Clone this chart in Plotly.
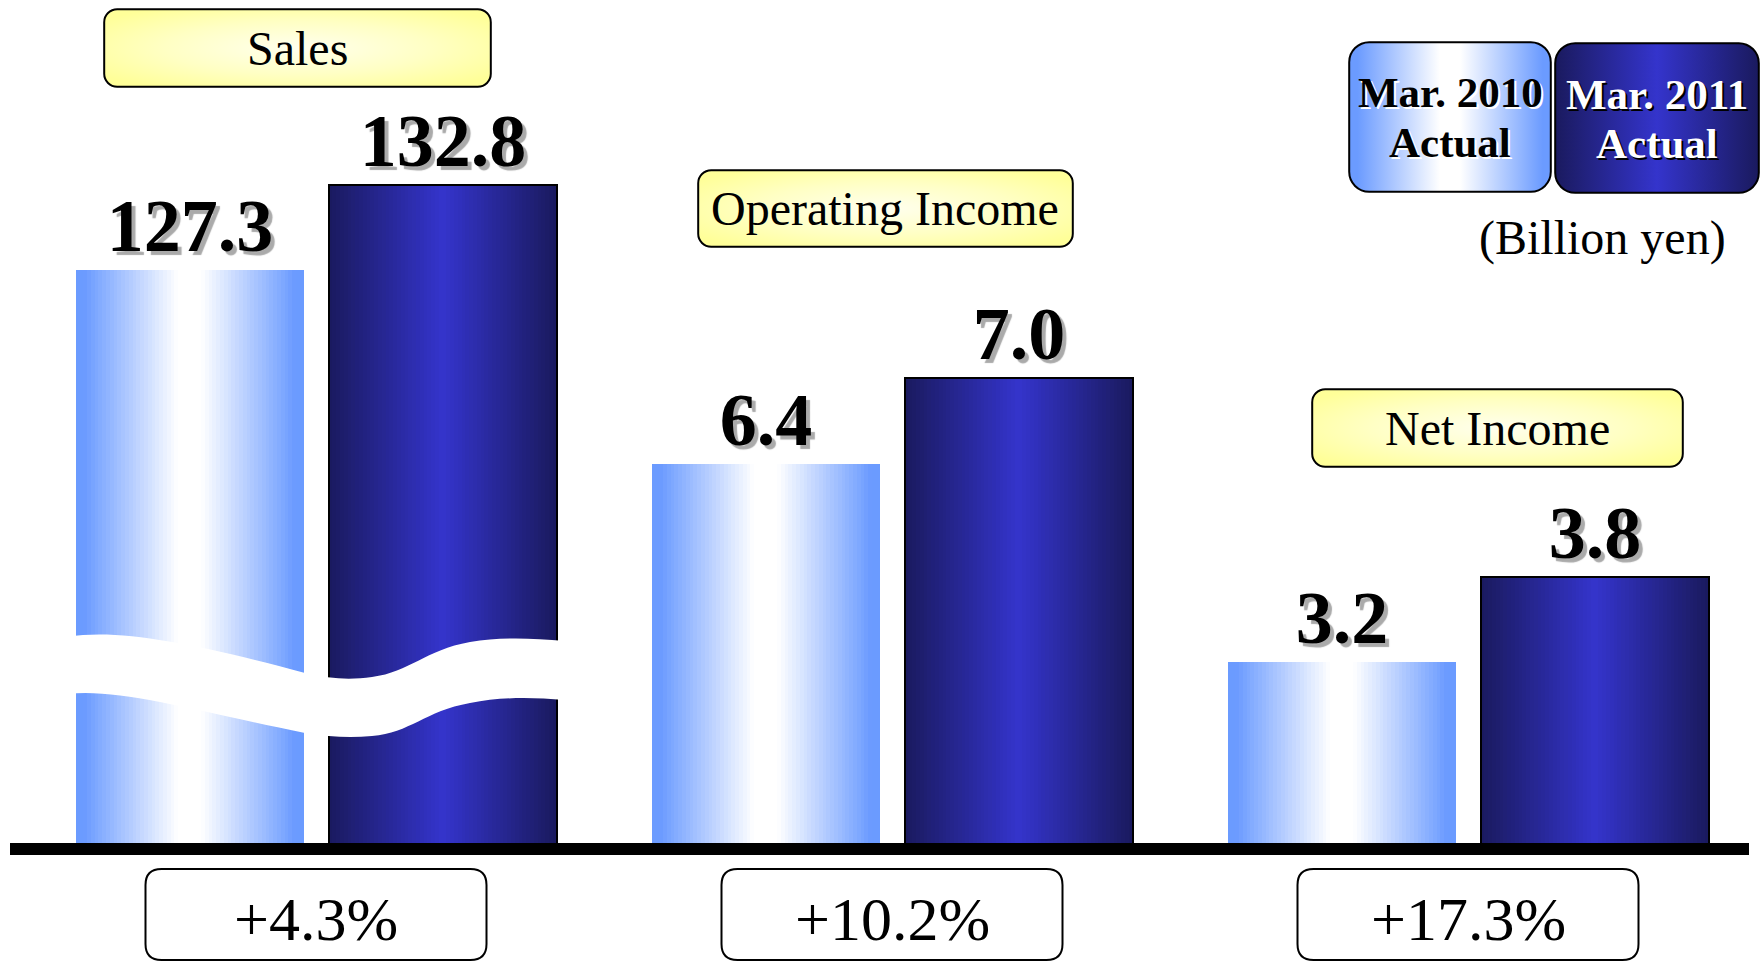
import base64
import plotly.graph_objects as go

W, H = 1763, 962

# ---------------- data ----------------
categories = ["Sales", "Operating Income", "Net Income"]
series_names = ["Mar. 2010 Actual", "Mar. 2011 Actual"]
values_2010 = [127.3, 6.4, 3.2]
values_2011 = [132.8, 7.0, 3.8]
change_labels = ["+4.3%", "+10.2%", "+17.3%"]
unit_label = "(Billion yen)"

# ---------------- layout constants ----------------
axis_base = [90.0, 3.77, 1.92]          # value sitting on the baseline for each group's axis
px_per_unit = [15.365, 144.0, 141.5]    # vertical scale of each group's axis
BASE_PX = 843                           # baseline (pixel row)
GROUP_PX = 576.0                        # pixels per group step
FIRST_CENTER_PX = 316.0
X_LEFT = -FIRST_CENTER_PX / GROUP_PX
X_RIGHT = (W - FIRST_CENTER_PX) / GROUP_PX
BAR_W = 228 / GROUP_PX
GAP = 25 / GROUP_PX
NSLICE = 60
SERIF = "Liberation Serif"

grad_2010 = [(0, "#6b9bff"), (0.04, "#6b9bff"), (0.45, "#ffffff"), (0.55, "#ffffff"),
             (0.96, "#6b9bff"), (1, "#6b9bff")]
grad_2011 = [(0, "#1a1a5e"), (0.5, "#3434cc"), (1, "#1a1a5e")]


def hex2rgb(h):
    h = h.lstrip("#")
    return tuple(int(h[i:i + 2], 16) for i in (0, 2, 4))


def color_at(stops, t):
    for (t0, c0), (t1, c1) in zip(stops[:-1], stops[1:]):
        if t0 <= t <= t1:
            f = 0 if t1 == t0 else (t - t0) / (t1 - t0)
            a, b = hex2rgb(c0), hex2rgb(c1)
            return "rgb(%d,%d,%d)" % tuple(round(a[k] + (b[k] - a[k]) * f) for k in range(3))
    return stops[-1][1]


def X(px):
    return px / W


def Y(py):
    return 1 - py / H


def xdata_to_px(xd):
    return (xd - X_LEFT) / (X_RIGHT - X_LEFT) * W


def rrect_path(x0, y0, x1, y1, r):
    ry = r
    return (f"M {X(x0 + r)},{Y(y0)} L {X(x1 - r)},{Y(y0)} Q {X(x1)},{Y(y0)} {X(x1)},{Y(y0 + ry)} "
            f"L {X(x1)},{Y(y1 - ry)} Q {X(x1)},{Y(y1)} {X(x1 - r)},{Y(y1)} "
            f"L {X(x0 + r)},{Y(y1)} Q {X(x0)},{Y(y1)} {X(x0)},{Y(y1 - ry)} "
            f"L {X(x0)},{Y(y0 + ry)} Q {X(x0)},{Y(y0)} {X(x0 + r)},{Y(y0)} Z")


def svg_uri(w, h, grad, r, radial=False):
    stops = "".join(f"<stop offset='{t}' stop-color='{c}'/>" for t, c in grad)
    if radial:
        gdef = f"<radialGradient id='g' cx='0.5' cy='0.5' r='0.62'>{stops}</radialGradient>"
    else:
        gdef = f"<linearGradient id='g' x1='0' y1='0' x2='1' y2='0'>{stops}</linearGradient>"
    svg = (f"<svg xmlns='http://www.w3.org/2000/svg' width='{w}' height='{h}' viewBox='0 0 {w} {h}'>"
           f"<defs>{gdef}</defs>"
           f"<rect x='1.2' y='1.2' width='{w - 2.4}' height='{h - 2.4}' rx='{r}' ry='{r}' "
           f"fill='url(#g)' stroke='#000' stroke-width='2'/></svg>")
    return "data:image/svg+xml;base64," + base64.b64encode(svg.encode()).decode()


fig = go.Figure()

value_font = dict(family=SERIF, size=74, color="black", weight="bold",
                  shadow="4px 4px 1px #aaaaaa")

series = [
    (values_2010, grad_2010, -GAP / 2 - BAR_W, 0, series_names[0]),
    (values_2011, grad_2011, GAP / 2, 2, series_names[1]),
]

for g in range(len(categories)):
    yref = "y" if g == 0 else f"y{g + 1}"
    for vals, stops, off0, lw, name in series:
        dw = BAR_W / NSLICE
        offs = [off0 + i * dw for i in range(NSLICE)]
        widths = [dw * 1.8 if i < NSLICE - 1 else dw for i in range(NSLICE)]
        cols = [color_at(stops, (i + 0.5) / NSLICE) for i in range(NSLICE)]
        fig.add_trace(go.Bar(
            x=[g] * NSLICE, y=[vals[g]] * NSLICE, offset=offs, width=widths,
            marker=dict(color=cols, line=dict(width=0)),
            xaxis="x", yaxis=yref, showlegend=False, hoverinfo="skip"))
        fig.add_trace(go.Bar(
            x=[g], y=[vals[g]], offset=off0, width=BAR_W, name=name,
            marker=dict(color="rgba(0,0,0,0)", line=dict(color="#000000", width=lw)),
            text=[f"{vals[g]:.1f}"], textposition="outside", cliponaxis=False,
            constraintext="none", textfont=value_font,
            xaxis="x", yaxis=yref, showlegend=False,
            hovertemplate=categories[g] + "<br>" + name + ": %{y}<extra></extra>"))

dom = [1 - BASE_PX / H, 1]
layout_axes = {}
for g in range(len(categories)):
    key = "yaxis" if g == 0 else f"yaxis{g + 1}"
    rng = [axis_base[g], axis_base[g] + BASE_PX / px_per_unit[g]]
    ax = dict(domain=dom, range=rng, visible=False, fixedrange=True, anchor="x")
    if g > 0:
        ax["overlaying"] = "y"
    layout_axes[key] = ax

shapes = []
# axis break wave across the Sales bars
wave = [(68, 637), (120, 628), (200, 645), (305, 673), (330, 679), (350, 680), (372, 677),
        (410, 672), (425, 650), (470, 642), (500, 637), (530, 638), (565, 641)]
wave_low = [(565, 700), (530, 697), (500, 697), (470, 703), (425, 711), (410, 733), (372, 736),
            (350, 738), (330, 737), (305, 733), (200, 712), (120, 688), (68, 694)]


def bez(pts, start_cmd):
    s = f"{start_cmd} {X(pts[0][0])},{Y(pts[0][1])} "
    for i in range(1, len(pts), 3):
        a, b, c = pts[i], pts[i + 1], pts[i + 2]
        s += f"C {X(a[0])},{Y(a[1])} {X(b[0])},{Y(b[1])} {X(c[0])},{Y(c[1])} "
    return s


wave_path = bez(wave, "M") + bez(wave_low, "L") + "Z"
shapes.append(dict(type="path", path=wave_path, xref="paper", yref="paper",
                   fillcolor="white", line=dict(width=0), layer="above"))

# baseline
shapes.append(dict(type="rect", xref="paper", yref="paper", x0=X(10), x1=X(1749),
                   y0=Y(855), y1=Y(843), fillcolor="black", line=dict(width=0), layer="above"))

annotations = []
# change boxes
for g, lab in enumerate(change_labels):
    cx = xdata_to_px(g)
    shapes.append(dict(type="path", path=rrect_path(cx - 170.5, 869, cx + 170.5, 960, 16),
                       xref="paper", yref="paper", fillcolor="white",
                       line=dict(color="black", width=2), layer="above"))
    annotations.append(dict(x=X(cx), y=Y(919), xref="paper", yref="paper", text=lab,
                            showarrow=False, xanchor="center", yanchor="middle",
                            font=dict(family=SERIF, size=62, color="black")))

# category title boxes
yellow = [(0, "#ffffee"), (0.55, "#ffffc4"), (1, "#ffff99")]
title_boxes = [(103, 8, 492, 88), (697, 169, 1074, 248), (1311, 388, 1684, 468)]
images = []
for (x0, y0, x1, y1), cat in zip(title_boxes, categories):
    images.append(dict(source=svg_uri(x1 - x0, y1 - y0, yellow, 13, radial=True),
                       xref="paper", yref="paper", x=X(x0), y=Y(y0), sizex=(x1 - x0) / W,
                       sizey=(y1 - y0) / H, xanchor="left", yanchor="top",
                       sizing="stretch", layer="above"))
    annotations.append(dict(x=X((x0 + x1) / 2), y=Y((y0 + y1) / 2 + 0.5), xref="paper",
                            yref="paper", text=cat, showarrow=False, xanchor="center",
                            yanchor="middle", font=dict(family=SERIF, size=48, color="black")))

# legend boxes
legend_boxes = [((1348, 41, 1552, 193), grad_2010, "black", "2px 2px 0px #ffffff"),
                ((1554, 42, 1760, 194), grad_2011, "white", "2px 2px 0px #000000")]
for (box, grad, tcol, shadow), name in zip(legend_boxes, series_names):
    x0, y0, x1, y1 = box
    images.append(dict(source=svg_uri(x1 - x0, y1 - y0, grad, 20), xref="paper", yref="paper",
                       x=X(x0), y=Y(y0), sizex=(x1 - x0) / W, sizey=(y1 - y0) / H,
                       xanchor="left", yanchor="top", sizing="stretch", layer="above"))
    first, second = name.rsplit(" ", 1)
    for txt, cy in ((first, y0 + 52), (second, y0 + 101)):
        annotations.append(dict(x=X((x0 + x1) / 2), y=Y(cy), xref="paper", yref="paper",
                                text=txt, showarrow=False, xanchor="center", yanchor="middle",
                                font=dict(family=SERIF, size=43, color=tcol, weight="bold",
                                          shadow=shadow)))

annotations.append(dict(x=X(1728), y=Y(238), xref="paper", yref="paper", text=unit_label,
                        showarrow=False, xanchor="right", yanchor="middle",
                        font=dict(family=SERIF, size=48, color="black")))

fig.update_layout(
    width=W, height=H, margin=dict(l=0, r=0, t=0, b=0, pad=0),
    paper_bgcolor="white", plot_bgcolor="white",
    barmode="overlay", bargap=0, showlegend=False,
    xaxis=dict(range=[X_LEFT, X_RIGHT], domain=[0, 1], visible=False, fixedrange=True),
    shapes=shapes, annotations=annotations, images=images,
    **layout_axes,
)

fig.write_html("out.html", config={"displayModeBar": False},
               post_script="document.body.style.margin='0';document.body.style.overflow='hidden';")
